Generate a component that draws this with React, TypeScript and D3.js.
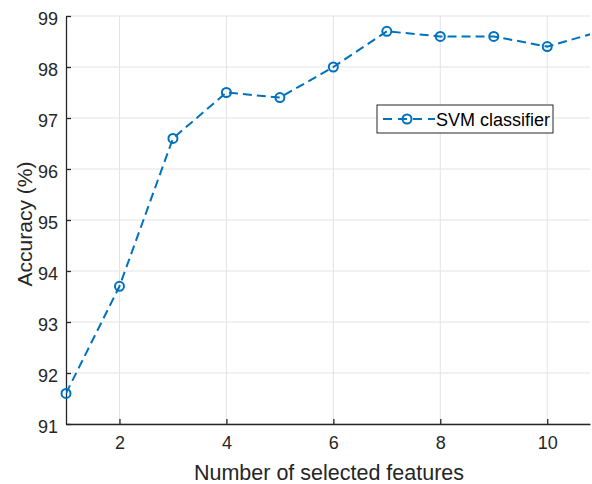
import React, { useEffect, useRef } from "react";
import * as d3 from "d3";

const features = [1, 2, 3, 4, 5, 6, 7, 8, 9, 10, 11];
const accuracy = [91.6, 93.7, 96.6, 97.5, 97.4, 98.0, 98.7, 98.6, 98.6, 98.4, 98.7];
const xTicks = [2, 4, 6, 8, 10];
const yTicks = [91, 92, 93, 94, 95, 96, 97, 98, 99];
const seriesName = "SVM classifier";

const W = 592, H = 484;
const margin = { top: 16, right: 2, bottom: 60, left: 66 };
const blue = "#0072BD";
const axisColor = "#262626";
const font = "Liberation Sans, Arial, sans-serif";

export default function App() {
  const ref = useRef<SVGSVGElement>(null);

  useEffect(() => {
    const svg = d3.select(ref.current);
    svg.selectAll("*").remove();
    const w = W - margin.left - margin.right;
    const h = H - margin.top - margin.bottom;

    const x = d3.scaleLinear().domain([1, 10.8]).range([0, w]);
    const y = d3.scaleLinear().domain([91, 99]).range([h, 0]);

    svg.append("defs").append("clipPath").attr("id", "plotclip")
      .append("rect").attr("width", w).attr("height", h);

    const g = svg.append("g").attr("transform", `translate(${margin.left},${margin.top})`);

    // grid
    g.selectAll(".gx").data(xTicks).join("line")
      .attr("x1", d => x(d)).attr("x2", d => x(d))
      .attr("y1", 0).attr("y2", h)
      .attr("stroke", "#e3e3e3").attr("stroke-width", 1);
    g.selectAll(".gy").data(yTicks).join("line")
      .attr("x1", 0).attr("x2", w)
      .attr("y1", d => y(d)).attr("y2", d => y(d))
      .attr("stroke", "#e3e3e3").attr("stroke-width", 1);

    // x axis
    const xAxis = g.append("g").attr("transform", `translate(0,${h})`)
      .call(d3.axisBottom(x).tickValues(xTicks).tickSizeInner(-5).tickSizeOuter(0).tickPadding(12));
    // y axis
    const yAxis = g.append("g")
      .call(d3.axisLeft(y).tickValues(yTicks).tickSizeInner(-5).tickSizeOuter(0).tickPadding(8));

    [xAxis, yAxis].forEach(a => {
      a.select(".domain").attr("stroke", axisColor).attr("stroke-width", 1.3);
      a.selectAll(".tick line").attr("stroke", axisColor).attr("stroke-width", 1.3);
      a.selectAll(".tick text").attr("fill", axisColor)
        .style("font-family", font).style("font-size", "18px");
    });
    yAxis.selectAll(".tick text").attr("dy", "0.45em");

    // series line
    const line = d3.line<number>().x((d, i) => x(features[i])).y(d => y(d));
    g.append("path").datum(accuracy)
      .attr("clip-path", "url(#plotclip)")
      .attr("d", line)
      .attr("fill", "none").attr("stroke", blue)
      .attr("stroke-width", 2).attr("stroke-dasharray", "9,5");

    const pts = accuracy.map((v, i) => [features[i], v]).filter(p => p[0] <= 10.8);
    g.selectAll(".pt").data(pts).join("circle")
      .attr("cx", d => x(d[0])).attr("cy", d => y(d[1])).attr("r", 4.5)
      .attr("fill", "none").attr("stroke", blue).attr("stroke-width", 2);

    // axis labels
    svg.append("text").attr("x", 329).attr("y", 480)
      .attr("text-anchor", "middle").attr("fill", axisColor)
      .style("font-family", font).style("font-size", "21.5px")
      .text("Number of selected features");
    svg.append("text")
      .attr("transform", `translate(32,224) rotate(-90)`)
      .attr("text-anchor", "middle").attr("fill", axisColor)
      .style("font-family", font).style("font-size", "21px")
      .text("Accuracy (%)");

    // legend
    const lg = svg.append("g").attr("transform", "translate(377,105)");
    lg.append("rect").attr("width", 176).attr("height", 28)
      .attr("fill", "white").attr("stroke", axisColor).attr("stroke-width", 1);
    lg.append("line").attr("x1", 6).attr("x2", 58).attr("y1", 14).attr("y2", 14)
      .attr("stroke", blue).attr("stroke-width", 2).attr("stroke-dasharray", "9,6");
    lg.append("circle").attr("cx", 30).attr("cy", 14).attr("r", 4.5)
      .attr("fill", "none").attr("stroke", blue).attr("stroke-width", 2);
    lg.append("text").attr("x", 59).attr("y", 20.5)
      .attr("fill", "#000").style("font-family", font).style("font-size", "18px")
      .text(seriesName);
  }, []);

  return (
    <svg ref={ref} width={W} height={H}
      style={{ position: "absolute", left: 0, top: 0, background: "white" }} />
  );
}
